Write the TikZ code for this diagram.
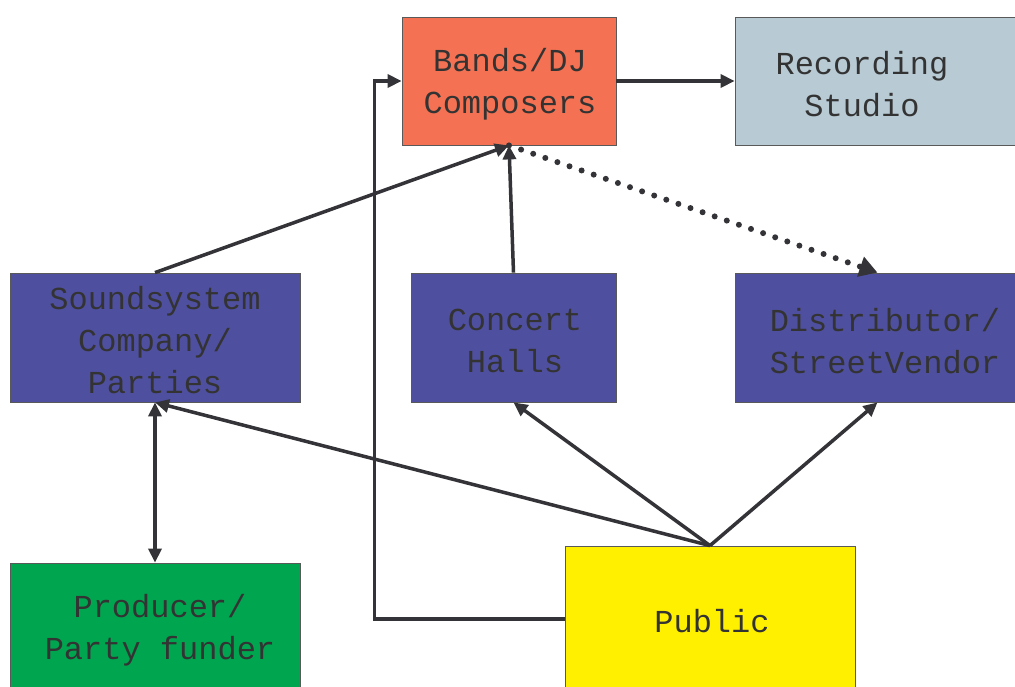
\documentclass[tikz,border=0pt]{standalone}
\usepackage{fontspec}
\setmonofont{Liberation Mono}
\usetikzlibrary{arrows.meta}
\definecolor{bandsc}{HTML}{F47253}
\definecolor{recc}{HTML}{B8CAD4}
\definecolor{bluec}{HTML}{4F4FA0}
\definecolor{greenc}{HTML}{00A550}
\definecolor{yellowc}{HTML}{FFF000}
\definecolor{linec}{HTML}{333338}
\definecolor{textc}{HTML}{333333}
\begin{document}
\begin{tikzpicture}[x=1pt,y=-1pt,
  box/.style={draw=black!65, line width=0.8pt, inner sep=0pt, anchor=center},
  lbl/.style={font=\ttfamily\fontsize{32}{42}\selectfont, text=textc, align=center, inner sep=0pt},
  conn/.style={draw=linec, line width=3.5pt, -{Triangle[length=14pt,width=13pt]}},
  dconn/.style={draw=linec, line width=3.5pt, {Triangle[length=14pt,width=13pt]}-{Triangle[length=14pt,width=13pt]}},
  dotconn/.style={draw=linec, line width=6pt, line cap=round, dash pattern=on 0pt off 12.8pt, -{Triangle[length=18pt,width=20pt]}}
]
\useasboundingbox (0,0) rectangle (1015,686);
\clip (0,0) rectangle (1015,686);
\fill[white] (0,0) rectangle (1015,686);
% boxes
\node[box, fill=bandsc, minimum width=214pt, minimum height=128pt] (bands) at (509,81) {};
\node[box, fill=recc, minimum width=285pt, minimum height=128pt] (rec) at (877.5,81) {};
\node[box, fill=bluec, minimum width=290pt, minimum height=129pt] (sound) at (155,337.5) {};
\node[box, fill=bluec, minimum width=205pt, minimum height=129pt] (concert) at (513.5,337.5) {};
\node[box, fill=bluec, minimum width=285pt, minimum height=129pt] (dist) at (877.5,337.5) {};
\node[box, fill=greenc, minimum width=290pt, minimum height=140pt] (prod) at (155,633) {};
\node[box, fill=yellowc, minimum width=290pt, minimum height=146pt] (public) at (710,619) {};
% labels
\node[lbl] (bandsT) at (510,84) {Bands/DJ\\Composers};
\node[lbl] (recT) at (862,84) {Recording\\Studio};
\node[lbl] (soundT) at (155,340) {Soundsystem\\Company/\\Parties};
\node[lbl] (concertT) at (515,341) {Concert\\Halls};
\node[lbl] (distT) at (885,341) {Distributor/\\StreetVendor};
\node[lbl] (prodT) at (160,630) {Producer/\\Party funder};
\node[lbl] (publicT) at (712,621) {Public};
% connectors
\draw[conn] (bands.east) -- (rec.west);
\draw[conn] (public.west) -- ++(-190,0) |- (bands.west);
\draw[conn] (sound.north) -- (bands.south);
\draw[conn] (concert.north) -- (bands.south);
\draw[dotconn] (bands.south) -- (dist.north);
\draw[conn] (public.north) -- (sound.south);
\draw[conn] (public.north) -- (concert.south);
\draw[conn] (public.north) -- (dist.south);
\draw[dconn] (sound.south) -- (prod.north);
\end{tikzpicture}
\end{document}
